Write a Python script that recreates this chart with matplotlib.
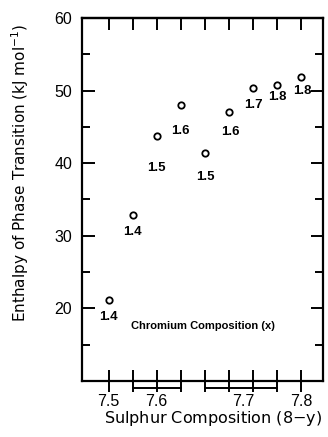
import matplotlib
matplotlib.use('Agg')
import matplotlib.pyplot as plt
from matplotlib.ticker import MultipleLocator, FixedLocator, NullFormatter
import matplotlib.transforms as mtransforms

plt.rcParams['font.family'] = ['Liberation Sans', 'DejaVu Sans']

# enthalpy of phase transition for each sample, in order of sulphur content
enthalpy = [21.1, 32.8, 43.7, 48.0, 41.4, 47.0, 50.3, 50.8, 51.9]
chromium = ['1.4', '1.4', '1.5', '1.6', '1.5', '1.6', '1.7', '1.8', '1.8']
sulphur_labels = ['7.5', '7.6', '7.7', '7.8']
sulphur_label_pos = [0, 2, 5.6, 8]
sulphur_groups = [(1, 3), (4, 7)]

# label offsets below each point (points)
label_dy = [-12, -12, -23, -19, -17, -14, -12, -9, -10]
label_dx = [0, 0, 0, 0, 0, 1, 0, 0, 1]

fig = plt.figure(figsize=(3.28, 4.37), dpi=100)
ax = fig.add_axes([0.25, 0.128, 0.735, 0.831])

xs = list(range(len(enthalpy)))
ax.plot(xs, enthalpy, linestyle='none', marker='o', markersize=4.6,
        markerfacecolor='white', markeredgecolor='black', markeredgewidth=1.3)

for x, y, lab, dx, dy in zip(xs, enthalpy, chromium, label_dx, label_dy):
    ax.annotate(lab, (x, y), xytext=(dx, dy), textcoords='offset points',
                ha='center', va='center', fontsize=9.5, fontweight='bold')

ax.set_xlim(-1.1, 8.9)
ax.set_ylim(10, 60)

for s in ax.spines.values():
    s.set_linewidth(1.6)

# y axis: inward ticks on both sides
ax.yaxis.set_major_locator(MultipleLocator(10))
ax.yaxis.set_minor_locator(MultipleLocator(5))
ax.set_yticks([20, 30, 40, 50, 60])
ax.tick_params(axis='y', which='both', direction='in', left=True, right=True,
               width=1.4)
ax.tick_params(axis='y', which='major', length=9, labelsize=11.5, pad=7)
ax.tick_params(axis='y', which='minor', length=5.5)

# x axis: crossing ticks at each sample, labels between them
ax.xaxis.remove_overlapping_locs = False
ax.xaxis.set_major_locator(FixedLocator(xs))
ax.xaxis.set_major_formatter(NullFormatter())
ax.xaxis.set_minor_locator(FixedLocator(sulphur_label_pos))
ax.set_xticklabels(sulphur_labels, minor=True)
ax.tick_params(axis='x', which='major', direction='inout', length=16,
               width=1.4, top=False)
ax.tick_params(axis='x', which='minor', length=0, labelsize=11.5, pad=9.5)

top = ax.secondary_xaxis('top')
top.set_xticks(xs)
top.set_xticklabels([])
top.tick_params(direction='in', length=8.5, width=1.4)
top.spines['top'].set_linewidth(1.6)

# brackets grouping samples with the same nominal sulphur content
trans = mtransforms.blended_transform_factory(ax.transData, ax.transAxes)
for a, b in sulphur_groups:
    ax.plot([a, b], [-0.018, -0.018], color='black', linewidth=1.4,
            transform=trans, clip_on=False)

ax.text(0.5, 0.153, 'Chromium Composition (x)', transform=ax.transAxes,
        ha='center', va='center', fontsize=8, fontweight='bold')

fig.text(0.061, 0.604, 'Enthalpy of Phase Transition (kJ mol$^{-1}$)',
         rotation=90, ha='center', va='center', fontsize=11,
         family='DejaVu Sans')
fig.text(0.65, 0.043, 'Sulphur Composition (8$-$y)', ha='center',
         va='center', fontsize=11.5, family='DejaVu Sans')

fig.savefig('out.png', dpi=100)
